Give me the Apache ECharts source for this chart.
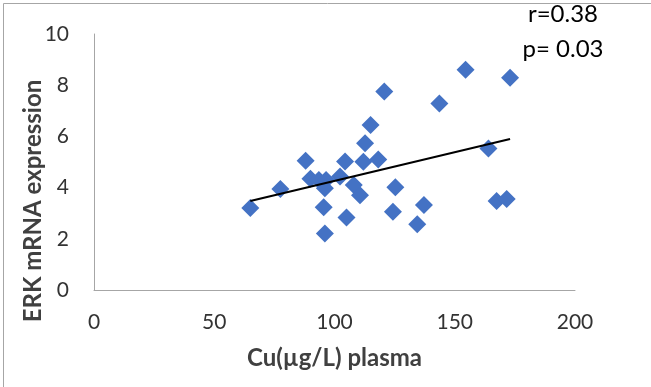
<!DOCTYPE html>
<html>
<head>
<meta charset="utf-8">
<script src="https://cdn.jsdelivr.net/npm/echarts@6/dist/echarts.min.js"></script>
<style>
  html, body { margin: 0; padding: 0; background: #fff; }
  #chart { width: 651px; height: 387px; }
</style>
</head>
<body>
<div id="chart"></div>
<script>
// Cu plasma (x) vs ERK mRNA expression (y)
var cuValues = [65, 77.5, 88, 90, 93.5, 96.5, 96, 95.5, 96, 102.3, 104.4, 105, 108, 110.6, 112, 112.7, 115, 118.2, 120.7, 125.3, 124.3, 134.4, 137.2, 143.6, 154.5, 164, 167.4, 171.6, 173]
var erkValues = [3.2, 3.95, 5.05, 4.35, 4.3, 4.3, 3.97, 3.23, 2.21, 4.43, 5.02, 2.83, 4.1, 3.7, 5.01, 5.73, 6.45, 5.1, 7.75, 4.01, 3.06, 2.57, 3.32, 7.29, 8.6, 5.53, 3.48, 3.55, 8.29]
// linear trend line end points
var trendX = [65, 173]
var trendY = [3.48, 5.9]
var statsText = ['r=0.38', 'p= 0.03']

var font = 'Lato'
var points = cuValues.map(function(v, i) {
  return [v, erkValues[i]]
})
var trend = trendX.map(function(v, i) {
  return [v, trendY[i]]
})

var chart = echarts.init(document.getElementById('chart'))
chart.setOption({
  backgroundColor: '#fff',
  animation: false,
  grid: {
    left: 94,
    right: 76,
    top: 34,
    bottom: 97
  },
  xAxis: {
    type: 'value',
    min: 0,
    max: 200,
    interval: 50,
    name: 'Cu(µg/L) plasma',
    nameLocation: 'middle',
    nameGap: 56,
    nameTextStyle: { fontFamily: font, fontSize: 24, fontWeight: 'bold', color: '#404040' },
    axisLine: { show: true, lineStyle: { color: '#a6a6a6', width: 1 } },
    axisTick: { show: false },
    splitLine: { show: false },
    axisLabel: { fontFamily: font, fontSize: 21, color: '#333', margin: 22 }
  },
  yAxis: {
    type: 'value',
    min: 0,
    max: 10,
    interval: 2,
    axisLine: { show: true, lineStyle: { color: '#a6a6a6', width: 1 } },
    axisTick: { show: false },
    splitLine: { show: false },
    axisLabel: { fontFamily: font, fontSize: 21, color: '#333', margin: 25 }
  },
  graphic: [
    {
      type: 'rect',
      left: 1,
      top: 1,
      shape: { width: 648, height: 384 },
      style: { fill: 'none', stroke: '#a6a6a6', lineWidth: 1 },
      silent: true
    },
    {
      type: 'text',
      x: 33,
      y: 201,
      rotation: Math.PI / 2,
      style: {
        text: 'ERK mRNA expression',
        fontFamily: font,
        fontSize: 24,
        fontWeight: 'bold',
        fill: '#404040',
        align: 'center',
        verticalAlign: 'middle'
      }
    },
    {
      type: 'text',
      x: 563,
      y: 14,
      style: { text: statsText[0], fontFamily: font, fontSize: 24, fill: '#000', align: 'center', verticalAlign: 'middle' }
    },
    {
      type: 'text',
      x: 563,
      y: 49,
      style: { text: statsText[1], fontFamily: font, fontSize: 24, fill: '#000', align: 'center', verticalAlign: 'middle' }
    }
  ],
  series: [
    {
      name: 'ERK',
      type: 'scatter',
      symbol: 'diamond',
      symbolSize: 18,
      itemStyle: { color: '#4472c4', opacity: 1 },
      data: points,
      z: 2
    },
    {
      name: 'trend',
      type: 'line',
      data: trend,
      symbol: 'none',
      lineStyle: { color: '#000', width: 2 },
      z: 3
    }
  ]
})
</script>
</body>
</html>
